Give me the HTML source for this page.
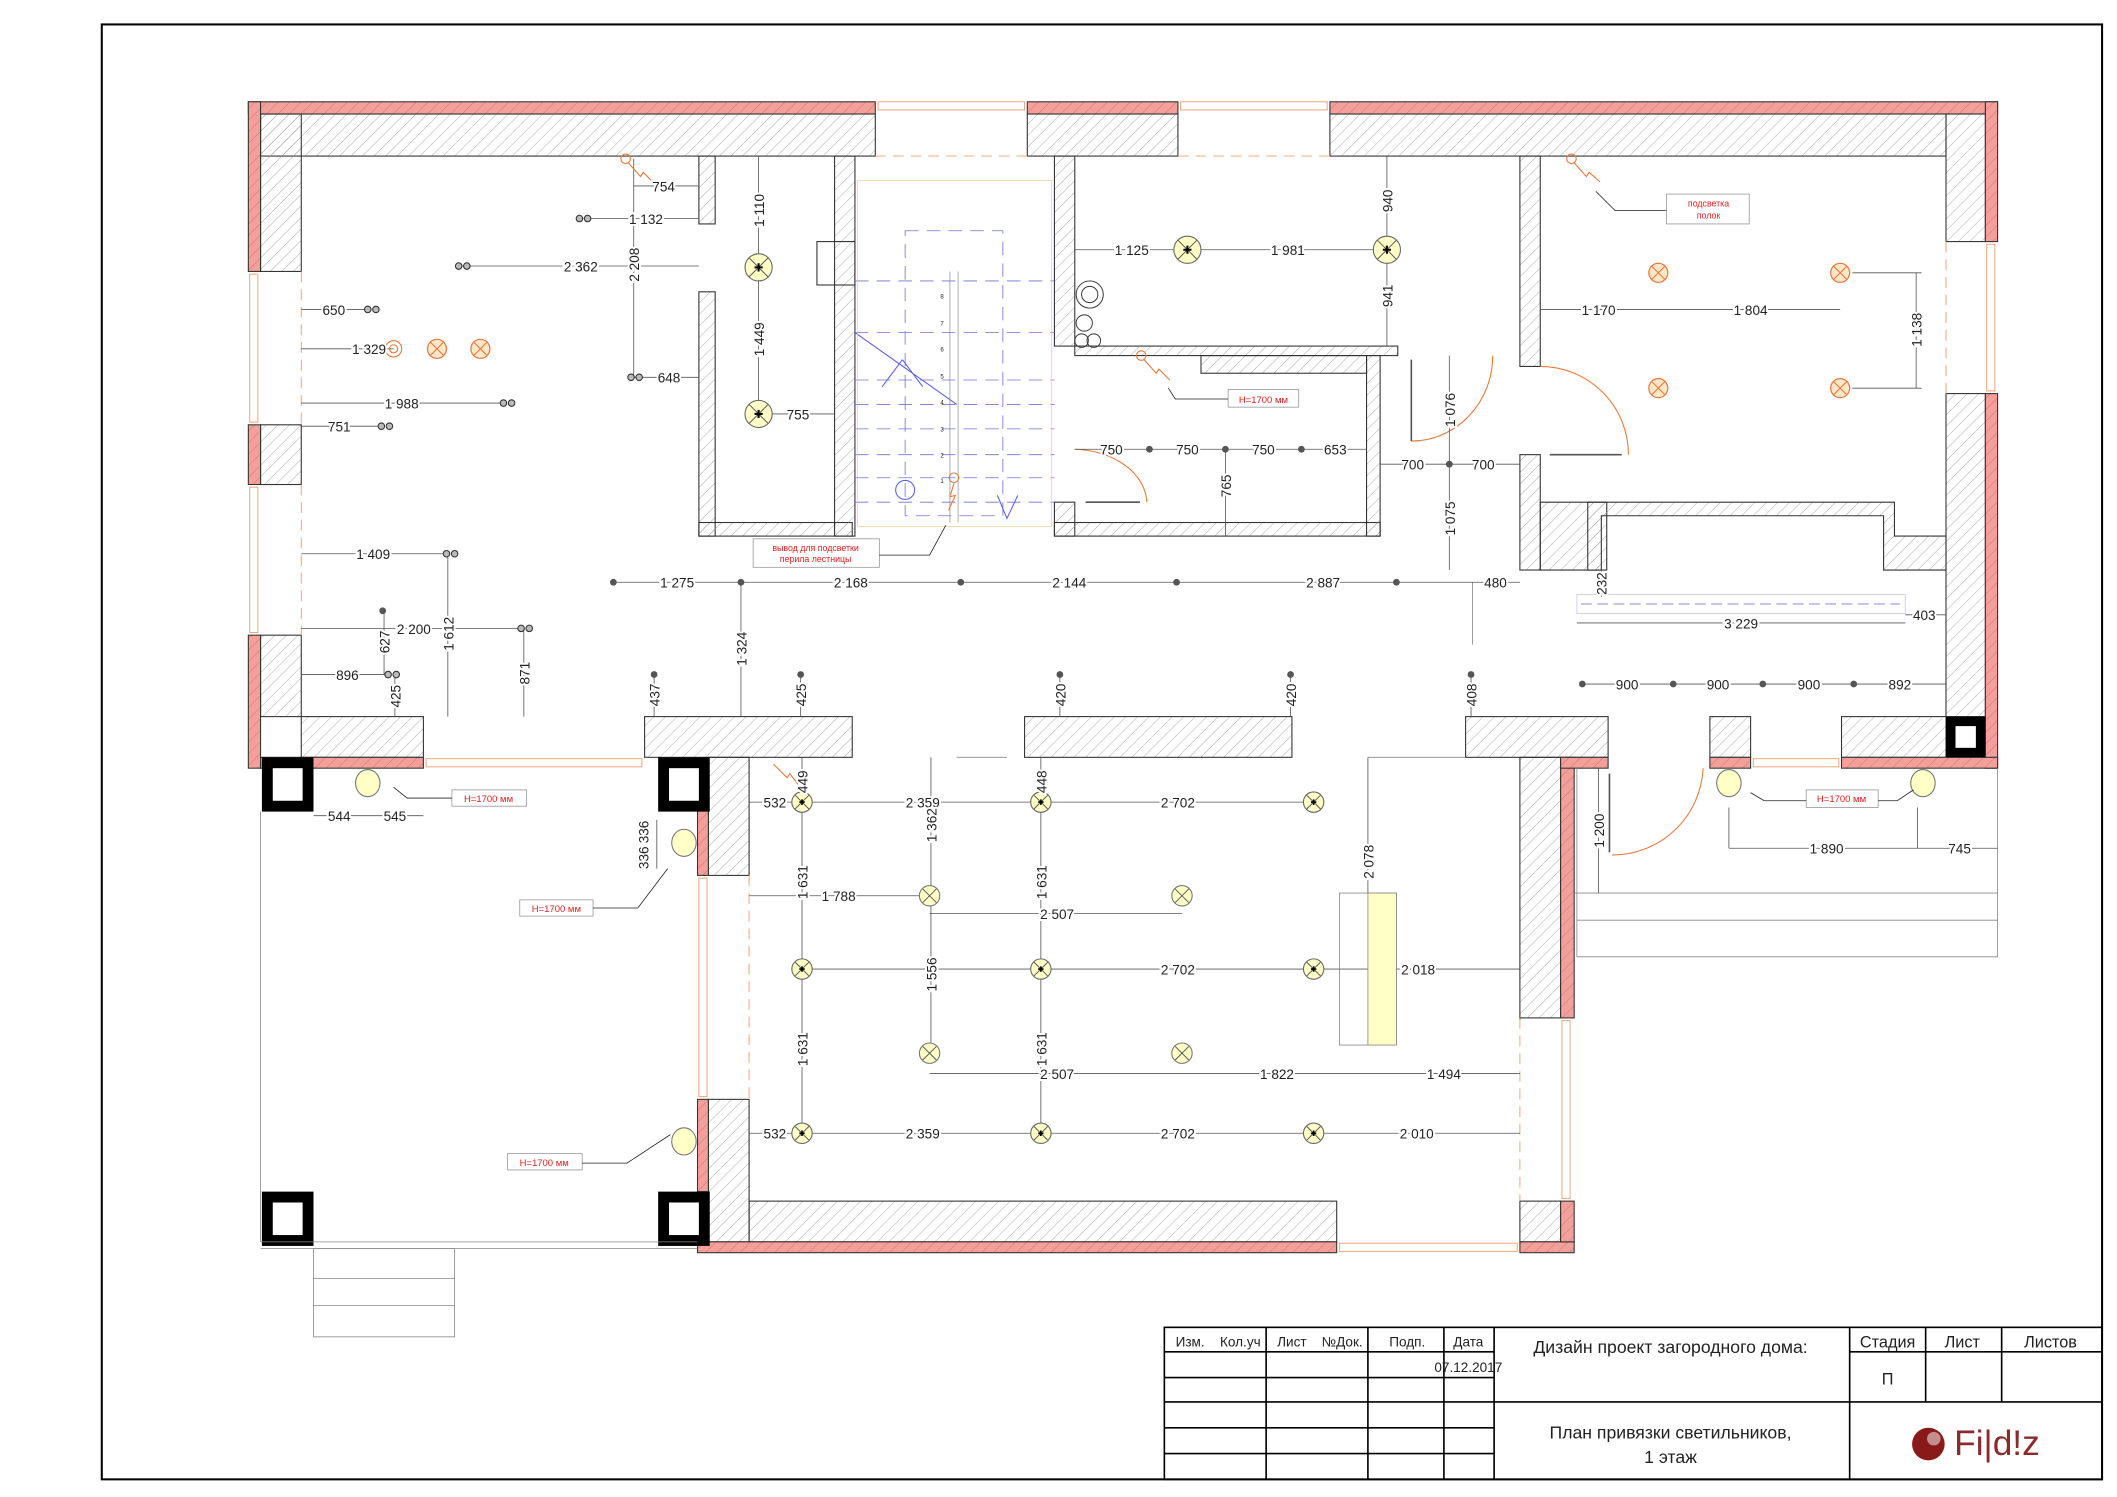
<!DOCTYPE html>
<html><head><meta charset="utf-8"><style>
html,body{margin:0;padding:0;background:#fff}
svg{display:block}
text{font-family:"Liberation Sans",sans-serif;font-size:10px;fill:#222}
.d{stroke:#fff;stroke-width:3px;paint-order:stroke}
.r{fill:#e02020;font-size:6.5px}
.t{font-size:11px;fill:#111}
</style></head><body>
<svg width="2117" height="1497" viewBox="0 0 1560 1103" preserveAspectRatio="none" xmlns="http://www.w3.org/2000/svg">
<defs>
<pattern id="h" patternUnits="userSpaceOnUse" width="6" height="6" patternTransform="rotate(45)"><line x1="0" y1="0" x2="0" y2="6" stroke="#999" stroke-width="0.6"/></pattern>
<pattern id="hr" patternUnits="userSpaceOnUse" width="6" height="6" patternTransform="rotate(45)"><rect width="6" height="6" fill="#f4a09a"/><line x1="0" y1="0" x2="0" y2="6" stroke="#c66" stroke-width="0.6"/></pattern>
<g id="L"><circle r="10" fill="#ffffc6" stroke="#666" stroke-width="0.8"/><path d="M-7-7L7 7M7-7L-7 7" stroke="#555" stroke-width="0.7"/><path d="M-3 0H3M0-3V3" stroke="#000" stroke-width="1.5"/></g>
<g id="S"><circle r="7.5" fill="#ffffc6" stroke="#666" stroke-width="0.8"/><path d="M-5-5L5 5M5-5L-5 5" stroke="#555" stroke-width="0.7"/><path d="M-2 0H2M0-2V2" stroke="#000" stroke-width="1.2"/></g>
<g id="X"><circle r="7.5" fill="#ffffc6" stroke="#777" stroke-width="0.8"/><path d="M-5-5L5 5M5-5L-5 5" stroke="#555" stroke-width="0.7"/></g>
<g id="O"><circle r="7" fill="#fde7c8" stroke="#e8783a" stroke-width="0.9"/><path d="M-5-5L5 5M5-5L-5 5" stroke="#e8783a" stroke-width="0.8"/></g>
<g id="P"><circle cx="-3" r="2.4" fill="#bbb" stroke="#333" stroke-width="0.8"/><circle cx="3" r="2.4" fill="#bbb" stroke="#333" stroke-width="0.8"/></g>
<g id="D"><circle r="2.5" fill="#555"/></g>
<g id="E"><ellipse rx="9" ry="10" fill="#ffffc6" stroke="#777" stroke-width="0.8"/></g>
</defs>

<!-- frame -->
<rect x="75" y="18" width="1474" height="1072" fill="none" stroke="#000" stroke-width="1.5"/>

<g stroke="#333" stroke-width="0.8">
<!-- top wall -->
<rect x="192" y="84" width="453" height="31" fill="url(#h)"/>
<rect x="757" y="84" width="111" height="31" fill="url(#h)"/>
<rect x="980" y="84" width="454" height="31" fill="url(#h)"/>
<rect x="183" y="75" width="462" height="9" fill="url(#hr)"/>
<rect x="757" y="75" width="111" height="9" fill="url(#hr)"/>
<rect x="980" y="75" width="492" height="9" fill="url(#hr)"/>
<!-- left wall -->
<rect x="192" y="84" width="30" height="116" fill="url(#h)"/>
<rect x="192" y="313" width="30" height="44" fill="url(#h)"/>
<rect x="192" y="468" width="30" height="60" fill="url(#h)"/>
<rect x="183" y="75" width="9" height="125" fill="url(#hr)"/>
<rect x="183" y="313" width="9" height="44" fill="url(#hr)"/>
<rect x="183" y="468" width="9" height="98" fill="url(#hr)"/>
<!-- right wall -->
<rect x="1434" y="84" width="29" height="94" fill="url(#h)"/>
<rect x="1434" y="290" width="29" height="238" fill="url(#h)"/>
<rect x="1463" y="75" width="9" height="103" fill="url(#hr)"/>
<rect x="1463" y="290" width="9" height="276" fill="url(#hr)"/>
<!-- lower walls of upper part -->
<rect x="222" y="528" width="90" height="30" fill="url(#h)"/>
<rect x="192" y="558" width="120" height="8" fill="url(#hr)"/>
<rect x="475" y="528" width="153" height="30" fill="url(#h)"/>
<rect x="755" y="528" width="197" height="30" fill="url(#h)"/>
<rect x="1080" y="528" width="105" height="30" fill="url(#h)"/>
<rect x="1120" y="558" width="30" height="192" fill="url(#h)"/>
<rect x="1150" y="558" width="10" height="192" fill="url(#hr)"/>
<rect x="1150" y="558" width="35" height="8" fill="url(#hr)"/>
<rect x="1260" y="528" width="30" height="30" fill="url(#h)"/>
<rect x="1357" y="528" width="77" height="30" fill="url(#h)"/>
<rect x="1260" y="558" width="30" height="8" fill="url(#hr)"/>
<rect x="1357" y="558" width="115" height="8" fill="url(#hr)"/>
<!-- middle room left wall -->
<rect x="522" y="558" width="30" height="87" fill="url(#h)"/>
<rect x="514" y="596" width="8" height="49" fill="url(#hr)"/>
<rect x="522" y="810" width="30" height="105" fill="url(#h)"/>
<rect x="514" y="810" width="8" height="68" fill="url(#hr)"/>
<!-- bottom wall -->
<rect x="552" y="885" width="433" height="30" fill="url(#h)"/>
<rect x="514" y="915" width="471" height="8" fill="url(#hr)"/>
<rect x="1120" y="885" width="30" height="30" fill="url(#h)"/>
<rect x="1120" y="915" width="40" height="8" fill="url(#hr)"/>
<rect x="1150" y="885" width="10" height="30" fill="url(#hr)"/>
<rect x="1120" y="750" width="0.1" height="1"/>
<!-- interior walls -->
<rect x="515" y="115" width="12" height="50" fill="url(#h)"/>
<rect x="515" y="215" width="12" height="180" fill="url(#h)"/>
<rect x="515" y="385" width="113" height="10" fill="url(#h)"/>
<rect x="615" y="115" width="15" height="280" fill="url(#h)"/>
<rect x="602" y="178" width="28" height="32" fill="none"/>
<rect x="777" y="115" width="15" height="140" fill="url(#h)"/>
<rect x="777" y="370" width="15" height="25" fill="url(#h)"/>
<rect x="792" y="255" width="238" height="7" fill="url(#h)"/>
<rect x="885" y="262" width="122" height="13" fill="url(#h)"/>
<rect x="777" y="385" width="240" height="10" fill="url(#h)"/>
<rect x="1007" y="262" width="10" height="133" fill="url(#h)"/>
<rect x="1120" y="115" width="15" height="155" fill="url(#h)"/>
<rect x="1120" y="335" width="15" height="85" fill="url(#h)"/>
<path d="M1135 370H1184V420H1135Z" fill="url(#h)"/>
<path d="M1170 370H1396V395H1434V420H1388V380H1180V420H1170Z" fill="url(#h)"/>
</g>

<!-- windows -->
<g stroke="#f0a070" stroke-width="0.7" fill="none">
<rect x="647" y="75" width="108" height="6"/><rect x="870" y="75" width="108" height="6"/>
<rect x="184" y="202" width="6" height="109"/><rect x="184" y="359" width="6" height="107"/>
<rect x="1464" y="180" width="6" height="108"/>
<rect x="314" y="559" width="159" height="6"/><rect x="1292" y="559" width="63" height="6"/>
<rect x="515" y="647" width="6" height="161"/><rect x="1151" y="752" width="6" height="131"/>
<rect x="987" y="916" width="131" height="6"/>
<path d="M645 115H757M868 115H980M222 200V313M222 357V468M1434 178V290M552 645V810M1120 750V885" stroke-dasharray="8 5"/>
</g>

<!-- columns -->
<g fill="#000"><rect x="193" y="558" width="38" height="40"/><rect x="485" y="558" width="38" height="40"/><rect x="193" y="878" width="38" height="40"/><rect x="485" y="878" width="38" height="40"/><rect x="1434" y="528" width="29" height="30"/></g>
<g fill="#fff"><rect x="201" y="566" width="22" height="24"/><rect x="493" y="566" width="22" height="24"/><rect x="201" y="886" width="22" height="24"/><rect x="493" y="886" width="22" height="24"/><rect x="1441" y="535" width="15" height="16"/></g>

<!-- terrace lines -->
<g stroke="#888" stroke-width="0.6" fill="none">
<path d="M192 598V915H514M192 920H514"/>
<rect x="231" y="920" width="104" height="65"/><path d="M231 942H335M231 962H335"/>
<path d="M1160 658H1472V705H1162V566M1162 678H1472M1472 566V705"/>
<path d="M1085 429V475M705 558H742M1008 558H1080"/>
</g>

<!-- stair -->
<g stroke="#7070e0" stroke-width="0.6" fill="none" stroke-dasharray="10 6">
<rect x="667" y="170" width="72" height="210"/>
<path d="M630 207H777M630 245H777M630 280H777M630 298H777M630 316H777M630 335H777M630 352H777M630 370H777"/>
</g>
<g stroke="#6060e0" stroke-width="0.8" fill="none"><path d="M630 245L705 298M665 265L650 285M665 265L680 285M735 365L742 382L750 365"/><circle cx="667" cy="361" r="7"/></g>
<g stroke="#888" stroke-width="0.5" fill="none"><rect x="632" y="133" width="143" height="255" stroke="#e8c8a0"/><path d="M700 200V385M706 200V385"/></g>
<g font-size="4.5"><text x="693" y="220" style="font-size:4.5px">8</text><text x="693" y="240" style="font-size:4.5px">7</text><text x="693" y="259" style="font-size:4.5px">6</text><text x="693" y="279" style="font-size:4.5px">5</text><text x="693" y="298" style="font-size:4.5px">4</text><text x="693" y="318" style="font-size:4.5px">3</text><text x="693" y="337" style="font-size:4.5px">2</text><text x="693" y="356" style="font-size:4.5px">1</text></g>
<g stroke="#333" stroke-width="0.7" fill="none"><circle cx="803" cy="217" r="10"/><circle cx="803" cy="217" r="6"/><circle cx="799" cy="238" r="6"/><circle cx="797" cy="251" r="5"/><circle cx="806" cy="251" r="5"/></g>

<!-- doors -->
<g stroke="#e87a3a" stroke-width="0.8" fill="none">
<path d="M792 331A55 40 0 0 1 845 370"/><path d="M1040 325A60 63 0 0 0 1100 262"/>
<path d="M1135 270A65 65 0 0 1 1200 335"/><path d="M1188 630A67 67 0 0 0 1255 566"/>
</g>
<g stroke="#555" stroke-width="1.2"><path d="M800 370H840M1142 335H1195M1040 265V325M1186 570V628"/></g>

<!-- dimension lines -->
<g stroke="#555" stroke-width="0.6" fill="none">
<path d="M467 137H515M430 161H515M338 196H515M467 117V278M222 228H270M222 257H290M466 278H515M222 297H370M222 314H283M222 408H330M222 463H385M283 450V497M330 408V528M386 463V528M222 497H288M291 497V528M482 497V528M590 497V528M546 429V528M452 429H1120M781 497V528M951 497V528M1084 497V528"/>
<path d="M559 115V305M559 305H615M792 184H1022M1022 115V255M792 331H1007M903 331V395M1017 342H1120M1068 262V420"/>
<path d="M1135 228H1356M1412 201V286M1365 201H1416M1365 286H1416M1180 420V440M1162 459H1404M1404 453H1434M1166 504H1434"/>
<path d="M552 591H968M591 558V835M767 558V835M686 558V776M552 660H685M685 673H871M591 714H1120M1008 558V658M685 791H1120M552 835H1120"/>
<path d="M231 601H312M484 604V640M1274 625H1472M1178 566V658M1274 595V625M1413 595V625"/>
</g>
<rect x="1162" y="438" width="242" height="14" fill="none" stroke="#c8c8e8" stroke-width="0.6"/>
<path d="M1165 445H1400" stroke="#b8b8e8" stroke-width="1.2" stroke-dasharray="8 4"/>
<rect x="987" y="658" width="42" height="112" fill="none" stroke="#888" stroke-width="0.6"/>
<rect x="1008" y="658" width="21" height="112" fill="#ffffc6" stroke="#888" stroke-width="0.6"/>

<!-- lights -->
<use href="#L" x="559" y="197"/><use href="#L" x="559" y="305"/><use href="#L" x="875" y="184"/><use href="#L" x="1022" y="184"/>
<use href="#S" x="591" y="591"/><use href="#S" x="767" y="591"/><use href="#S" x="968" y="591"/>
<use href="#S" x="591" y="714"/><use href="#S" x="767" y="714"/><use href="#S" x="968" y="714"/>
<use href="#S" x="591" y="835"/><use href="#S" x="767" y="835"/><use href="#S" x="968" y="835"/>
<use href="#X" x="685" y="660"/><use href="#X" x="871" y="660"/><use href="#X" x="685" y="776"/><use href="#X" x="871" y="776"/>
<use href="#O" x="322" y="257"/><use href="#O" x="354" y="257"/>
<use href="#O" x="1222" y="201"/><use href="#O" x="1356" y="201"/><use href="#O" x="1222" y="286"/><use href="#O" x="1356" y="286"/>
<g fill="none" stroke="#e8783a" stroke-width="0.8"><circle cx="290" cy="257" r="6"/><circle cx="290" cy="257" r="3"/><circle cx="461" cy="117" r="3.5"/><circle cx="841" cy="262" r="3.5"/><circle cx="1158" cy="117" r="3.5"/><circle cx="703" cy="352" r="3.5"/>
<path d="M463 120L472 130L474 127L482 135M843 265L852 275L854 272L862 280M1160 120L1169 130L1171 127L1179 134M703 356L700 366L704 365L699 376M570 563L580 573L582 570L588 578"/></g>
<use href="#P" x="430" y="161"/><use href="#P" x="341" y="196"/><use href="#P" x="274" y="228"/><use href="#P" x="468" y="278"/><use href="#P" x="374" y="297"/><use href="#P" x="284" y="314"/><use href="#P" x="332" y="408"/><use href="#P" x="387" y="463"/><use href="#P" x="289" y="497"/>
<use href="#D" x="282" y="450"/><use href="#D" x="482" y="497"/><use href="#D" x="590" y="497"/><use href="#D" x="781" y="497"/><use href="#D" x="951" y="497"/><use href="#D" x="1084" y="497"/>
<use href="#D" x="452" y="429"/><use href="#D" x="546" y="429"/><use href="#D" x="708" y="429"/><use href="#D" x="867" y="429"/><use href="#D" x="1029" y="429"/>
<use href="#D" x="847" y="331"/><use href="#D" x="903" y="331"/><use href="#D" x="959" y="331"/><use href="#D" x="1068" y="342"/>
<use href="#D" x="1166" y="504"/><use href="#D" x="1233" y="504"/><use href="#D" x="1299" y="504"/><use href="#D" x="1366" y="504"/>
<use href="#E" x="271" y="577"/><use href="#E" x="504" y="621"/><use href="#E" x="504" y="841"/><use href="#E" x="1274" y="577"/><use href="#E" x="1417" y="577"/>

<!-- labels boxes -->
<g fill="#fff" stroke="#999" stroke-width="0.6">
<rect x="555" y="397" width="93" height="21"/><rect x="1228" y="143" width="61" height="22"/><rect x="905" y="287" width="52" height="13"/>
<rect x="333" y="582" width="55" height="12"/><rect x="383" y="663" width="54" height="12"/><rect x="374" y="850" width="55" height="12"/><rect x="1331" y="582" width="53" height="13"/>
</g>
<g stroke="#222" stroke-width="0.6" fill="none"><path d="M648 409H685L697 387M1228 155H1190L1176 141M905 294H866L861 286M333 588H300L290 580M437 669H470L492 640M429 857H462L494 836M1331 590H1300L1290 584M1384 590H1398L1410 582"/></g>
<text class="r" x="601" y="406" text-anchor="middle" style="font-size:6.5px;fill:#e02020">вывод для подсветки</text>
<text class="r" x="601" y="414" text-anchor="middle" style="font-size:6.5px;fill:#e02020">перила лестницы</text>
<text x="1259" y="152" text-anchor="middle" style="font-size:6.5px;fill:#e02020">подсветка</text>
<text x="1259" y="161" text-anchor="middle" style="font-size:6.5px;fill:#e02020">полок</text>
<g style="font-size:7px" text-anchor="middle"><text x="931" y="297" style="font-size:7px;fill:#e02020">Н=1700 мм</text><text x="360" y="591" style="font-size:7px;fill:#e02020">Н=1700 мм</text><text x="410" y="672" style="font-size:7px;fill:#e02020">Н=1700 мм</text><text x="401" y="859" style="font-size:7px;fill:#e02020">Н=1700 мм</text><text x="1357" y="591" style="font-size:7px;fill:#e02020">Н=1700 мм</text></g>

<!-- dim texts horizontal -->
<g class="d" text-anchor="middle">
<text x="489" y="141">754</text><text x="476" y="165">1 132</text><text x="428" y="200">2 362</text><text x="246" y="232">650</text><text x="272" y="261">1 329</text><text x="493" y="282">648</text><text x="296" y="301">1 988</text><text x="250" y="318">751</text><text x="275" y="412">1 409</text><text x="305" y="467">2 200</text><text x="256" y="501">896</text>
<text x="499" y="433">1 275</text><text x="627" y="433">2 168</text><text x="788" y="433">2 144</text><text x="975" y="433">2 887</text><text x="1102" y="433">480</text>
<text x="588" y="309">755</text><text x="834" y="188">1 125</text><text x="949" y="188">1 981</text>
<text x="819" y="335">750</text><text x="875" y="335">750</text><text x="931" y="335">750</text><text x="984" y="335">653</text><text x="1041" y="346">700</text><text x="1093" y="346">700</text>
<text x="1178" y="232">1 170</text><text x="1290" y="232">1 804</text><text x="1283" y="463">3 229</text><text x="1418" y="457">403</text>
<text x="1199" y="508">900</text><text x="1266" y="508">900</text><text x="1333" y="508">900</text><text x="1400" y="508">892</text>
<text x="571" y="595">532</text><text x="680" y="595">2 359</text><text x="868" y="595">2 702</text><text x="618" y="664">1 788</text><text x="779" y="677">2 507</text>
<text x="868" y="718">2 702</text><text x="1045" y="718">2 018</text><text x="779" y="795">2 507</text><text x="941" y="795">1 822</text><text x="1064" y="795">1 494</text>
<text x="571" y="839">532</text><text x="680" y="839">2 359</text><text x="868" y="839">2 702</text><text x="1044" y="839">2 010</text>
<text x="250" y="605">544</text><text x="291" y="605">545</text><text x="1346" y="629">1 890</text><text x="1444" y="629">745</text>
</g>
<!-- vertical texts -->
<g class="d" text-anchor="middle">
<text transform="translate(471,195) rotate(-90)">2 208</text><text transform="translate(563,155) rotate(-90)">1 110</text><text transform="translate(563,250) rotate(-90)">1 449</text>
<text transform="translate(287,473) rotate(-90)">627</text><text transform="translate(334,467) rotate(-90)">1 612</text><text transform="translate(390,496) rotate(-90)">871</text><text transform="translate(295,513) rotate(-90)">425</text>
<text transform="translate(486,512) rotate(-90)">437</text><text transform="translate(594,512) rotate(-90)">425</text><text transform="translate(550,478) rotate(-90)">1 324</text>
<text transform="translate(785,512) rotate(-90)">420</text><text transform="translate(955,512) rotate(-90)">420</text><text transform="translate(1088,512) rotate(-90)">408</text>
<text transform="translate(1026,148) rotate(-90)">940</text><text transform="translate(1026,218) rotate(-90)">941</text><text transform="translate(907,358) rotate(-90)">765</text>
<text transform="translate(1072,302) rotate(-90)">1 076</text><text transform="translate(1072,382) rotate(-90)">1 075</text><text transform="translate(1416,243) rotate(-90)">1 138</text><text transform="translate(1184,430) rotate(-90)">232</text>
<text transform="translate(595,576) rotate(-90)">449</text><text transform="translate(771,576) rotate(-90)">448</text><text transform="translate(690,608) rotate(-90)">1 362</text>
<text transform="translate(595,650) rotate(-90)">1 631</text><text transform="translate(771,650) rotate(-90)">1 631</text><text transform="translate(690,718) rotate(-90)">1 556</text>
<text transform="translate(595,773) rotate(-90)">1 631</text><text transform="translate(771,773) rotate(-90)">1 631</text><text transform="translate(1012,635) rotate(-90)">2 078</text>
<text transform="translate(478,613) rotate(-90)">336</text><text transform="translate(478,632) rotate(-90)">336</text><text transform="translate(1182,612) rotate(-90)">1 200</text>
</g>

<!-- title block -->
<g stroke="#000" stroke-width="1.2" fill="none">
<rect x="858" y="978" width="691" height="112"/>
<path d="M858 996H1101M858 1015H1101M858 1033H1549M858 1052H1101M858 1071H1101M933 978V1090M1008 978V1090M1064 978V1090M1101 978V1090M1363 978V1090M1419 978V1033M1475 978V1033M1363 996H1549"/>
</g>
<g text-anchor="middle" style="font-size:10px">
<text x="877" y="992">Изм.</text><text x="914" y="992">Кол.уч</text><text x="952" y="992">Лист</text><text x="989" y="992">№Док.</text><text x="1037" y="992">Подп.</text><text x="1082" y="992">Дата</text>
<text x="1082" y="1011">07.12.2017</text>
<text x="1231" y="997" style="font-size:13px">Дизайн проект загородного дома:</text>
<text x="1231" y="1060" style="font-size:13px">План привязки светильников,</text>
<text x="1231" y="1078" style="font-size:13px">1 этаж</text>
<text x="1391" y="993" style="font-size:12px">Стадия</text><text x="1446" y="993" style="font-size:12px">Лист</text><text x="1511" y="993" style="font-size:12px">Листов</text>
<text x="1391" y="1020" style="font-size:12px">П</text>
</g>
<circle cx="1421" cy="1064" r="12" fill="#8a1a1a"/><circle cx="1425" cy="1060" r="5" fill="#fff" opacity="0.5"/>
<text x="1440" y="1072" style="font-size:26px;fill:#8a2a2a">Fi|d!z</text>
</svg>
</body></html>
